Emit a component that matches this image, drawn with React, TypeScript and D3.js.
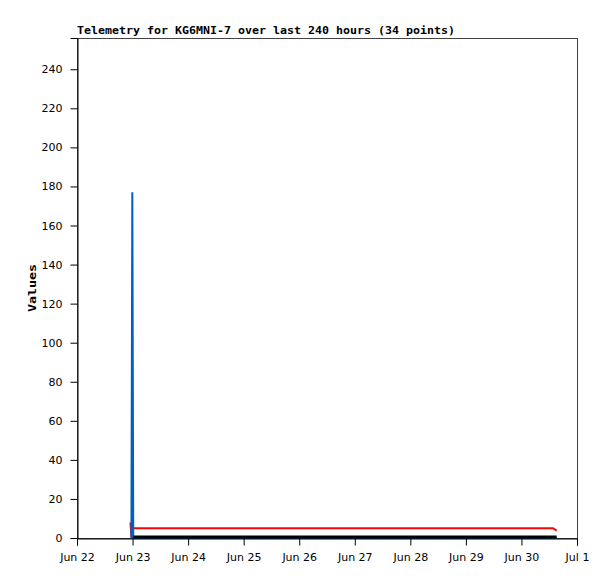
import React, { useEffect, useRef } from 'react';
import * as d3 from 'd3';

// hours after Jun 22 00:00
const hours = [23.1, 23.5, 23.9, 24.3, 30, 36, 42, 48, 54, 60, 66, 72, 78, 84, 90, 96, 102, 108, 114,
  120, 126, 132, 138, 144, 150, 156, 162, 168, 174, 180, 186, 192, 205.6, 207.2];
const redValues = [8, 0.5, 6.3, 5, 5, 5, 5, 5, 5, 5, 5, 5, 5, 5, 5, 5, 5, 5, 5,
  5, 5, 5, 5, 5, 5, 5, 5, 5, 5, 5, 5, 5, 5, 3.8];
const blueValues = [0, 0, 177, 0, 0, 0, 0, 0, 0, 0, 0, 0, 0, 0, 0, 0, 0, 0, 0,
  0, 0, 0, 0, 0, 0, 0, 0, 0, 0, 0, 0, 0, 0, 0];
const blackValues = [0, 0, 0, 0, 0, 0, 0, 0, 0, 0, 0, 0, 0, 0, 0, 0, 0, 0, 0,
  0, 0, 0, 0, 0, 0, 0, 0, 0, 0, 0, 0, 0, 0, 0];
const yTicks = [0, 20, 40, 60, 80, 100, 120, 140, 160, 180, 200, 220, 240];
const title = 'Telemetry for KG6MNI-7 over last 240 hours (34 points)';

const App: React.FC = () => {
  const ref = useRef<SVGSVGElement>(null);

  useEffect(() => {
    if (!ref.current) return;
    const width = 615;
    const height = 579;
    const left = 77, right = 577, top = 38, bottom = 538;

    const svg = d3.select(ref.current).attr('width', width).attr('height', height);
    svg.selectAll('*').remove();

    const start = new Date(2024, 5, 22);
    const end = new Date(2024, 6, 1);
    const x = d3.scaleTime().domain([start, end]).range([left, right]);
    const y = d3.scaleLinear().domain([0, 256]).range([bottom, top]);
    const times = hours.map(h => new Date(start.getTime() + h * 3600 * 1000));

    svg.append('rect').attr('width', width).attr('height', height).attr('fill', '#fff');

    // frame
    svg.append('rect')
      .attr('x', left + 0.5).attr('y', top + 0.5)
      .attr('width', right - left).attr('height', bottom - top)
      .attr('fill', 'none').attr('stroke', '#444').attr('stroke-width', 1);

    const font = '"DejaVu Sans", "Liberation Sans", sans-serif';

    const line = (vals: number[], from = 0, dy = 0) => d3.line<number>()
      .x((_, i) => x(times[i + from]))
      .y(v => y(v) + dy)(vals.slice(from));

    svg.append('path').attr('d', line(redValues)).attr('fill', 'none')
      .attr('stroke', '#ff0000').attr('stroke-width', 2);
    svg.append('path').attr('d', line(blueValues)).attr('fill', 'none')
      .attr('stroke', '#0060c0').attr('stroke-width', 2);
    // black series drawn from where the blue one returns to zero
    svg.append('path').attr('d', line(blackValues, 3, -1)).attr('fill', 'none')
      .attr('stroke', '#000').attr('stroke-width', 3);

    const yAxis = d3.axisLeft(y).tickValues(yTicks).tickSize(7).tickPadding(8);
    const gy = svg.append('g').attr('transform', `translate(${left + 0.5},0)`).call(yAxis);
    gy.select('.domain').attr('stroke', '#000');
    gy.selectAll('text').attr('font-family', font).attr('font-size', 11).attr('fill', '#000');

    const xAxis = d3.axisBottom(x)
      .ticks(d3.timeDay.every(1))
      .tickFormat(d => d3.timeFormat('%b %-d')(d as Date))
      .tickSize(7).tickPadding(8);
    const gx = svg.append('g').attr('transform', `translate(0,${bottom + 0.5})`).call(xAxis);
    gx.select('.domain').attr('stroke', '#000');
    gx.selectAll('text').attr('font-family', font).attr('font-size', 11).attr('fill', '#000');

    svg.append('text')
      .attr('x', left).attr('y', 34)
      .attr('font-family', '"DejaVu Sans Mono", monospace').attr('font-weight', 'bold')
      .attr('font-size', 11).attr('textLength', 378).attr('lengthAdjust', 'spacingAndGlyphs')
      .text(title);

    svg.append('text')
      .attr('transform', `translate(36,${(top + bottom) / 2}) rotate(-90)`)
      .attr('text-anchor', 'middle')
      .attr('font-family', '"DejaVu Sans Mono", monospace').attr('font-weight', 'bold')
      .attr('font-size', 11).attr('textLength', 48).attr('lengthAdjust', 'spacingAndGlyphs')
      .text('Values');
  }, []);

  return <svg ref={ref} style={{ position: 'absolute', left: 0, top: 0 }}></svg>;
};

export default App;
